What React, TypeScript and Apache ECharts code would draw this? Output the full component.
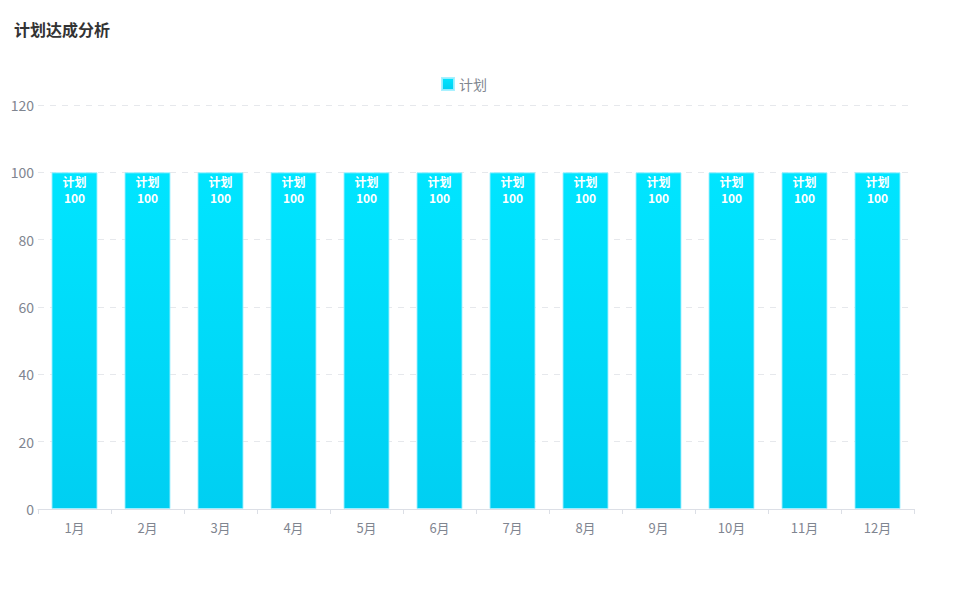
import React, { useEffect, useRef } from "react";
import * as echarts from "echarts";

const categories = ["1月", "2月", "3月", "4月", "5月", "6月", "7月", "8月", "9月", "10月", "11月", "12月"];
const planValues = [100, 100, 100, 100, 100, 100, 100, 100, 100, 100, 100, 100];
const seriesName = "计划";
const titleText = "计划达成分析";

export default function App() {
  const ref = useRef<HTMLDivElement>(null);
  useEffect(() => {
    const chart = echarts.init(ref.current!, null, { renderer: "svg" });
    chart.setOption({
      animation: false,
      title: {
        text: titleText,
        left: 9,
        top: 16,
        textStyle: { fontSize: 16, fontWeight: "bold", color: "#333", fontFamily: "Noto Sans CJK SC" },
      },
      legend: {
        top: 72,
        left: 436,
        itemWidth: 12,
        itemHeight: 12,
        itemGap: 8,
        icon: "rect",
        data: [seriesName],
        textStyle: { color: "#80868f", fontSize: 14, fontFamily: "Noto Sans CJK SC" },
      },
      grid: { left: 38, right: 47, top: 105, bottom: 80 },
      xAxis: {
        type: "category",
        data: categories,
        axisLine: { lineStyle: { color: "#dcdfe6" } },
        axisTick: { show: true, lineStyle: { color: "#dcdfe6" } },
        axisLabel: { color: "#7f8590", fontSize: 13, margin: 12, fontFamily: "Noto Sans CJK SC" },
      },
      yAxis: {
        type: "value",
        min: 0,
        max: 120,
        interval: 20,
        axisLine: { show: false },
        axisTick: { show: false },
        axisLabel: { color: "#7f8590", fontSize: 14, margin: 4, fontFamily: "Noto Sans CJK SC" },
        splitLine: { lineStyle: { type: [6, 6], color: "#e6e8ec" } },
      },
      series: [
        {
          name: seriesName,
          type: "bar",
          data: planValues,
          barWidth: 46,
          itemStyle: {
            color: new echarts.graphic.LinearGradient(0, 0, 0, 1, [
              { offset: 0, color: "#00e5ff" },
              { offset: 1, color: "#00cff2" },
            ]),
            borderColor: "rgba(160,240,255,0.9)",
            borderWidth: 1,
          },
          label: {
            show: true,
            position: "insideTop",
            distance: 1,
            formatter: "{a}\n{c}",
            color: "#fff",
            fontSize: 12,
            fontWeight: "bold",
            lineHeight: 16,
            fontFamily: "Noto Sans CJK SC",
          },
        },
      ],
    });
    return () => chart.dispose();
  }, []);
  return <div ref={ref} style={{ position: "absolute", left: 0, top: 0, width: 961, height: 589 }} />;
}
